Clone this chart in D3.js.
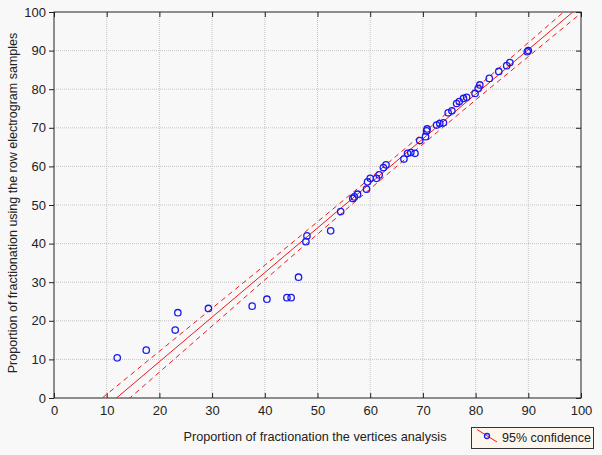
<!DOCTYPE html>
<html lang="en">
<head>
<meta charset="UTF-8">
<script src="https://d3js.org/d3.v7.min.js"></script>
<style>
  body { margin: 0; background: #f8f8f8; }
  text { font-family: "Liberation Sans", Arial, sans-serif; fill: #222; }
</style>
</head>
<body>
<svg class="chart"></svg>
<script>
// scatter points
var xVals = [12.0, 17.5, 23.0, 23.5, 29.3, 37.6, 40.4, 44.2, 45.0, 46.4, 47.8, 48.0, 52.5, 54.4,
    56.7, 57.0, 57.6, 59.3, 59.5, 60.0, 61.2, 61.7, 62.5, 63.0,
    66.4, 67.1, 67.7, 68.5, 69.4, 70.5, 70.7, 70.8, 72.6, 73.2, 73.9,
    74.8, 75.5, 76.4, 76.9, 77.7, 78.3, 79.9, 80.5, 80.8, 82.6, 84.4, 85.9, 86.5, 89.8, 90.0];
var yVals = [10.4, 12.4, 17.6, 22.1, 23.2, 23.8, 25.6, 26.0, 26.0, 31.3, 40.5, 42.0, 43.3, 48.3,
    51.7, 52.1, 52.8, 54.1, 56.0, 56.9, 56.9, 57.8, 59.7, 60.4,
    61.9, 63.4, 63.6, 63.4, 66.7, 67.7, 69.2, 69.7, 70.7, 71.1, 71.3,
    73.9, 74.4, 76.3, 76.8, 77.6, 77.9, 78.9, 80.2, 81.1, 82.8, 84.6, 86.1, 86.9, 89.7, 90.0];

// fitted line and half width of the 95% band
var fitIntercept = -13.7;
var fitSlope = 1.155;
var bandX = [0, 10, 20, 30, 40, 50, 60, 70, 80, 90, 100];
var bandHalf = [3.5, 3.1, 2.7, 2.3, 1.9, 1.6, 1.4, 1.4, 1.5, 1.8, 2.1];

var ticks = [0, 10, 20, 30, 40, 50, 60, 70, 80, 90, 100];

var W = 602, H = 455;
var pl = 54, pr = 581, pt = 12, pb = 398;

var svg = d3.select(".chart").attr("width", W).attr("height", H);

var x = d3.scaleLinear().domain([0, 100]).range([pl, pr]);
var y = d3.scaleLinear().domain([0, 100]).range([pb, pt]);

svg.append("defs").append("clipPath").attr("id", "plot")
    .append("rect")
    .attr("x", pl).attr("y", pt)
    .attr("width", pr - pl).attr("height", pb - pt);

// grid
svg.append("g").selectAll("line").data(ticks.slice(1, -1)).enter()
    .append("line")
    .attr("x1", function(d) { return x(d); }).attr("x2", function(d) { return x(d); })
    .attr("y1", pt).attr("y2", pb)
    .attr("stroke", "#c4c4c4").attr("stroke-dasharray", "1,1");
svg.append("g").selectAll("line").data(ticks.slice(1, -1)).enter()
    .append("line")
    .attr("y1", function(d) { return y(d); }).attr("y2", function(d) { return y(d); })
    .attr("x1", pl).attr("x2", pr)
    .attr("stroke", "#c4c4c4").attr("stroke-dasharray", "1,1");

// axes
function styleAxis(g) {
    g.select(".domain").remove();
    g.selectAll(".tick line").attr("stroke", "#222");
    g.selectAll(".tick text").attr("font-size", 13).attr("fill", "#222")
        .attr("font-family", "Liberation Sans, Arial, sans-serif");
}
svg.append("g").attr("transform", "translate(0," + pb + ")")
    .call(d3.axisBottom(x).tickValues(ticks).tickSizeInner(-5).tickSizeOuter(0).tickPadding(8))
    .call(styleAxis);
svg.append("g").attr("transform", "translate(" + pl + ",0)")
    .call(d3.axisLeft(y).tickValues(ticks).tickSize(5).tickPadding(3))
    .call(styleAxis);
svg.append("g").attr("transform", "translate(0," + pt + ")")
    .call(d3.axisTop(x).tickValues(ticks).tickSize(-5).tickFormat(""))
    .call(styleAxis);
svg.append("g").attr("transform", "translate(" + pr + ",0)")
    .call(d3.axisRight(y).tickValues(ticks).tickSize(-5).tickFormat(""))
    .call(styleAxis);

svg.append("rect")
    .attr("x", pl).attr("y", pt)
    .attr("width", pr - pl).attr("height", pb - pt)
    .attr("fill", "none").attr("stroke", "#222");

// fit and confidence band
var plot = svg.append("g").attr("clip-path", "url(#plot)");
var line = d3.line()
    .x(function(d) { return x(d[0]); })
    .y(function(d) { return y(d[1]); })
    .curve(d3.curveMonotoneX);

var fitPts = bandX.map(function(d) { return [d, fitIntercept + fitSlope * d]; });
var upPts = bandX.map(function(d, i) { return [d, fitIntercept + fitSlope * d + bandHalf[i]]; });
var loPts = bandX.map(function(d, i) { return [d, fitIntercept + fitSlope * d - bandHalf[i]]; });

plot.append("path").attr("d", line(fitPts))
    .attr("fill", "none").attr("stroke", "#f01818").attr("stroke-width", 1);
[upPts, loPts].forEach(function(pts) {
    plot.append("path").attr("d", line(pts))
        .attr("fill", "none").attr("stroke", "#f01818").attr("stroke-width", 1)
        .attr("stroke-dasharray", "5,4");
});

// points
svg.append("g").selectAll("circle").data(xVals).enter()
    .append("circle")
    .attr("cx", function(d) { return x(d); })
    .attr("cy", function(d, i) { return y(yVals[i]); })
    .attr("r", 3.2)
    .attr("fill", "none")
    .attr("stroke", "#1a1aee")
    .attr("stroke-width", 1.3);

// titles
svg.append("text")
    .attr("x", 315).attr("y", 441)
    .attr("text-anchor", "middle").attr("font-size", 12.7)
    .text("Proportion of fractionation the vertices analysis");
svg.append("text")
    .attr("transform", "translate(17,203) rotate(-90)")
    .attr("text-anchor", "middle").attr("font-size", 12.5)
    .text("Proportion of fractionation using the row electrogram samples");

// legend
var lg = svg.append("g");
lg.append("rect")
    .attr("x", 471.5).attr("y", 427.5).attr("width", 122).attr("height", 21)
    .attr("fill", "#fcf6ec").attr("stroke", "#333");
lg.append("line")
    .attr("x1", 477).attr("y1", 429.5).attr("x2", 497).attr("y2", 442)
    .attr("stroke", "#f01818");
lg.append("circle")
    .attr("cx", 487).attr("cy", 436).attr("r", 2.5)
    .attr("fill", "none").attr("stroke", "#1a1aee").attr("stroke-width", 1.3);
lg.append("text")
    .attr("x", 502).attr("y", 442).attr("font-size", 12.5)
    .text("95% confidence");
</script>
</body>
</html>
